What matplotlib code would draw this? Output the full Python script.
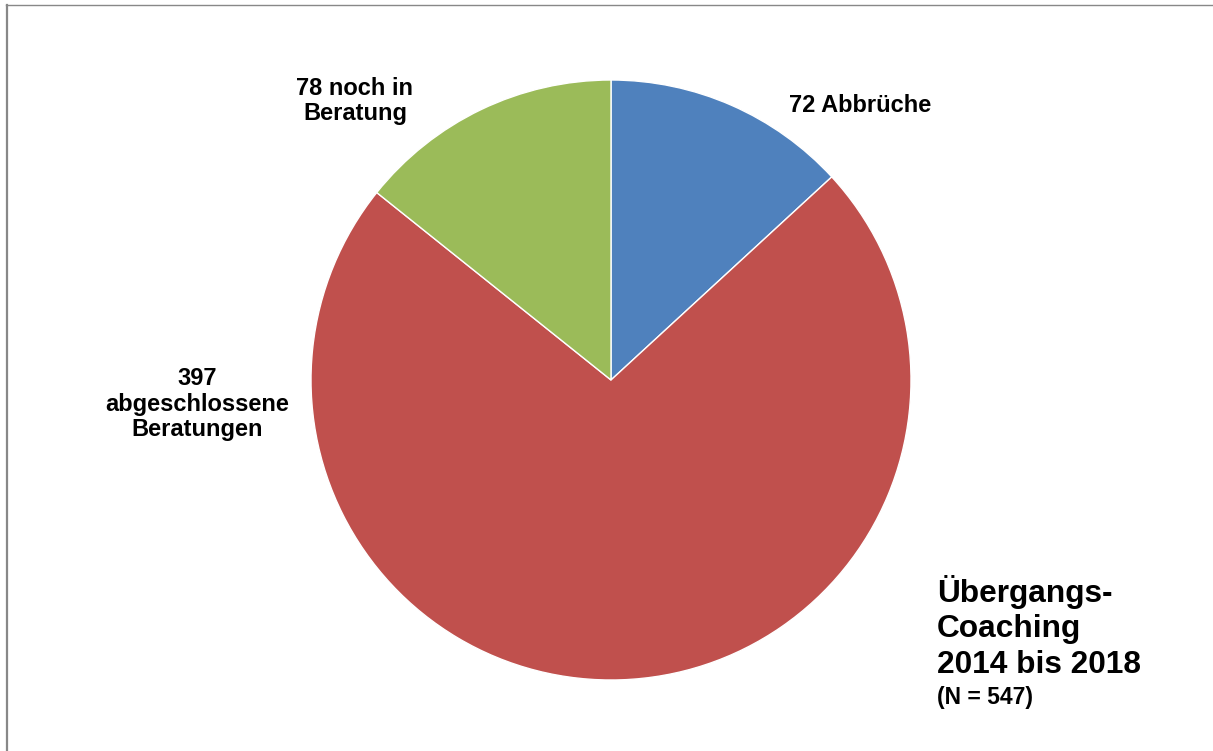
import matplotlib
matplotlib.use("Agg")
import matplotlib.pyplot as plt
from matplotlib.lines import Line2D

labels = ["72 Abbrüche", "397\nabgeschlossene\nBeratungen", "78 noch in\nBeratung"]
values = [72, 397, 78]
colors = ["#4F81BD", "#C0504D", "#9BBB59"]
title_lines = ["Übergangs-", "Coaching", "2014 bis 2018"]
n_text = "(N = 547)"

W, H = 1213, 751
fig = plt.figure(figsize=(W / 100, H / 100), dpi=100)
plt.rcParams['font.family'] = ['Liberation Sans', 'DejaVu Sans']

cx, cy, r = 611, 380, 300
ax = fig.add_axes([(cx - r) / W, (H - cy - r) / H, 2 * r / W, 2 * r / H])
ax.pie(values, colors=colors, startangle=90, counterclock=False, radius=1,
       wedgeprops=dict(edgecolor="white", linewidth=1))
ax.set_xlim(-1, 1)
ax.set_ylim(-1, 1)
ax.set_aspect('equal')
ax.axis('off')

def px(x, y):
    return (x - cx) / r, (cy - y) / r

lab_pos = [(860, 106), (197, 404), (355, 101)]
for lab, (x, y) in zip(labels, lab_pos):
    dx, dy = px(x, y)
    ax.text(dx, dy, lab, ha='center', va='center', fontsize=17, fontweight='bold',
            linespacing=1.15, clip_on=False)

baselines = [602, 637, 673]
for t, b in zip(title_lines, baselines):
    fig.text(937 / W, 1 - b / H, t, ha='left', va='baseline', fontsize=22.8, fontweight='bold')
fig.text(937 / W, 1 - 704 / H, n_text, ha='left', va='baseline', fontsize=16.5, fontweight='bold')

fig.add_artist(Line2D([6.5 / W, 6.5 / W], [0, 1 - 5 / H], transform=fig.transFigure,
                      color="#888888", linewidth=1.6))
fig.add_artist(Line2D([6 / W, 1], [1 - 5 / H, 1 - 5 / H], transform=fig.transFigure,
                      color="#888888", linewidth=1.0))

fig.savefig("out.png", dpi=100, facecolor="white")
